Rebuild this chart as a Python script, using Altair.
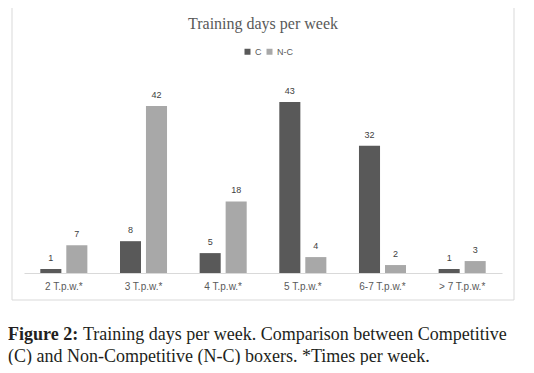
import altair as alt
import pandas as pd

categories = ["2 T.p.w.*", "3 T.p.w.*", "4 T.p.w.*", "5 T.p.w.*", "6-7 T.p.w.*", "> 7 T.p.w.*"]
series = ["C", "N-C"]
c_values = [1, 8, 5, 43, 32, 1]
nc_values = [7, 42, 18, 4, 2, 3]
title_text = "Training days per week"
caption_bold = "Figure 2:"
caption_line1 = "Training days per week. Comparison between Competitive"
caption_line2 = "(C) and Non-Competitive (N-C) boxers. *Times per week."

rows = []
for i, cat in enumerate(categories):
    rows.append({"cat": cat, "series": "C", "value": c_values[i]})
    rows.append({"cat": cat, "series": "N-C", "value": nc_values[i]})
df = pd.DataFrame(rows)

x_enc = alt.X("cat:N", sort=categories,
              scale=alt.Scale(paddingInner=0, paddingOuter=0),
              axis=alt.Axis(title=None, labelAngle=0, ticks=False, domainColor="#D9D9D9",
                            labelColor="#595959", labelFontSize=10, labelFont="Liberation Sans",
                            labelPadding=8))
xo_enc = alt.XOffset("series:N", sort=series, scale=alt.Scale(paddingInner=0.19, paddingOuter=0.627))
y_enc = alt.Y("value:Q", scale=alt.Scale(domain=[0, 45]), axis=None)

base = alt.Chart(df)
bars = base.mark_bar().encode(
    x=x_enc, xOffset=xo_enc, y=y_enc,
    color=alt.Color("series:N", scale=alt.Scale(domain=series, range=["#595959", "#A8A8A8"]),
                    legend=alt.Legend(title=None, orient="none", legendX=219, legendY=-47,
                                      direction="horizontal", symbolType="square", symbolSize=36,
                                      symbolStrokeWidth=0, labelFontSize=9, labelColor="#595959",
                                      labelFont="Liberation Sans", columnPadding=3, labelOffset=3)),
)
labels = base.mark_text(dy=-11, fontSize=9, color="#404040", font="Liberation Sans").encode(
    x=x_enc, xOffset=xo_enc, y=y_enc, text="value:Q"
)

one = pd.DataFrame({"a": [0]})
border = alt.Chart(one).mark_rect(fillOpacity=0, stroke="#D9D9D9", strokeWidth=1).encode(
    x=alt.value(-12), x2=alt.value(490), y=alt.value(-87), y2=alt.value(206)
)
title = alt.Chart(one).mark_text(align="center", baseline="alphabetic", font="Liberation Serif",
                                 fontSize=16, color="#595959").encode(
    x=alt.value(239), y=alt.value(-65), text=alt.value(title_text))
cap_b = alt.Chart(one).mark_text(align="left", baseline="alphabetic", font="Liberation Serif",
                                 fontSize=18, fontWeight="bold", color="#231f20").encode(
    x=alt.value(-16), y=alt.value(246), text=alt.value(caption_bold))
cap_1 = alt.Chart(one).mark_text(align="left", baseline="alphabetic", font="Liberation Serif",
                                 fontSize=18, color="#231f20").encode(
    x=alt.value(59), y=alt.value(246), text=alt.value(caption_line1))
cap_2 = alt.Chart(one).mark_text(align="left", baseline="alphabetic", font="Liberation Serif",
                                 fontSize=18, color="#231f20").encode(
    x=alt.value(-16), y=alt.value(268), text=alt.value(caption_line2))

chart = alt.layer(border, bars, labels, title, cap_b, cap_1, cap_2).properties(
    width=478, height=179,
    background="white",
    autosize=alt.AutoSizeParams(type="none"),
    padding={"left": 16, "top": 86, "right": 24, "bottom": 92},
).configure_view(stroke="transparent", strokeWidth=0)

chart.save("out.html", embed_options={"renderer": "svg", "actions": False})
